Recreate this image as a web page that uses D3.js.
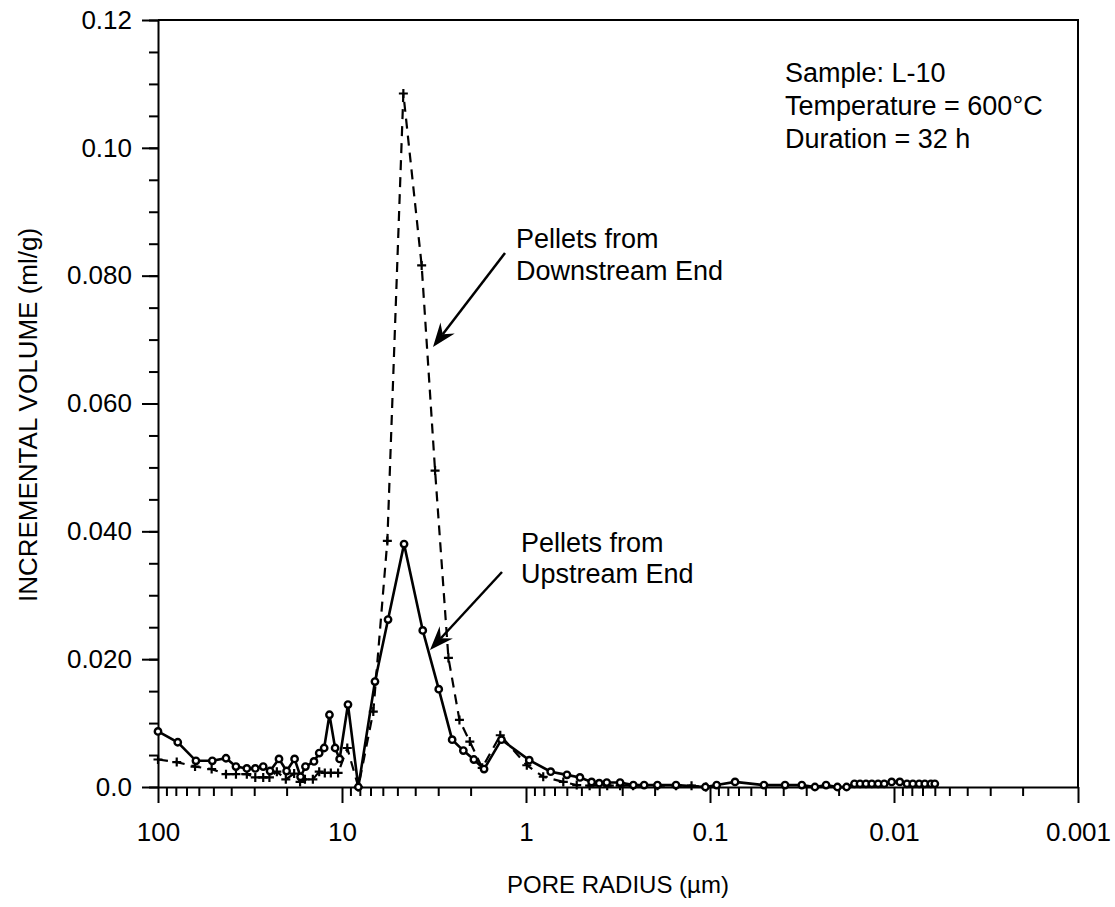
<!DOCTYPE html>
<html>
<head>
<meta charset="utf-8">
<script src="https://cdn.jsdelivr.net/npm/d3@7"></script>
<style>
    body { margin: 0; background: #fff; }
    svg text { font-family: Arial, "Liberation Sans", Helvetica, sans-serif; fill: #000; }
</style>
</head>
<body>
<svg id="chart" width="1115" height="907"></svg>
<script>
// pore radius (µm) and incremental volume (ml/g)
const UP_RADIUS = [100, 78.1, 62.2, 50.7, 42.7, 37.7, 32.9, 29.6, 26.8, 24.6, 22.0, 20.0, 18.1, 16.8,
    15.8, 14.2, 13.3, 12.5, 11.7, 10.9, 10.3, 9.28, 8.15, 6.62, 5.62, 4.60, 3.64, 2.98, 2.52, 2.19,
    1.92, 1.69, 1.36, 0.96, 0.734, 0.599, 0.509, 0.440, 0.400, 0.364, 0.308, 0.261, 0.228, 0.193,
    0.153, 0.106, 0.092, 0.0731, 0.0509, 0.0391, 0.0317, 0.0269, 0.0234, 0.0203, 0.0181, 0.0164,
    0.0153, 0.0142, 0.0132, 0.0122, 0.0113, 0.0103, 0.0093, 0.0085, 0.0079, 0.0073, 0.0068, 0.0063, 0.0060];
const UP_VOLUME = [0.0087, 0.0070, 0.0041, 0.0041, 0.0045, 0.0032, 0.0029, 0.0029, 0.0032, 0.0025, 0.0044,
    0.0025, 0.0044, 0.0016, 0.0032, 0.0040, 0.0053, 0.0061, 0.0113, 0.0061, 0.0044, 0.0129, 0.0, 0.0165,
    0.0262, 0.0380, 0.0245, 0.0153, 0.0074, 0.0057, 0.0043, 0.0028, 0.0074, 0.0042, 0.0024, 0.0019,
    0.0015, 0.0008, 0.0006, 0.0007, 0.0007, 0.0003, 0.0003, 0.0003, 0.0003, 0.0, 0.0003, 0.0008, 0.0003,
    0.0003, 0.0003, 0.0, 0.0003, 0.0, 0.0, 0.0005, 0.0005, 0.0005, 0.0005, 0.0005, 0.0005, 0.0008, 0.0008,
    0.0005, 0.0005, 0.0005, 0.0005, 0.0005, 0.0005];

const DOWN_RADIUS = [100, 79.1, 62.9, 51.1, 42.7, 37.7, 32.9, 29.6, 26.8, 24.8, 22.6, 20.2, 18.2, 16.9,
    15.9, 14.4, 13.3, 12.4, 11.5, 10.5, 9.36, 8.15, 6.76, 5.67, 4.64, 3.69, 3.12, 2.64, 2.30, 2.02, 1.73,
    1.38, 0.99, 0.806, 0.627, 0.530, 0.451, 0.362, 0.308, 0.262, 0.193, 0.153, 0.126, 0.105];
const DOWN_VOLUME = [0.0043, 0.0039, 0.0032, 0.0028, 0.0020, 0.0020, 0.0020, 0.0015, 0.0015, 0.0015, 0.0024,
    0.0012, 0.0021, 0.0008, 0.0012, 0.0012, 0.0024, 0.0022, 0.0022, 0.0022, 0.0061, 0.0, 0.0118, 0.0385,
    0.1085, 0.0816, 0.0495, 0.0202, 0.0105, 0.0071, 0.0030, 0.0081, 0.0034, 0.0016, 0.0008, 0.0003,
    0.0002, 0.0002, 0.0002, 0.0002, 0.0002, 0.0002, 0.0002, 0.0];

const X_TICKS = [100, 10, 1, 0.1, 0.01, 0.001];
const X_TICK_LABELS = ['100', '10', '1', '0.1', '0.01', '0.001'];
const Y_TICKS = [0, 0.02, 0.04, 0.06, 0.08, 0.10, 0.12];
const Y_TICK_LABELS = ['0.0', '0.020', '0.040', '0.060', '0.080', '0.10', '0.12'];

const INFO_LINES = ['Sample: L-10', 'Temperature = 600°C', 'Duration = 32 h'];

const LEFT = 158, RIGHT = 1078, TOP = 20, BOTTOM = 787;
const FONT = 26;
const NOTE_FONT = 27;

const svg = d3.select('#chart');

const x = d3.scaleLog().domain([100, 0.001]).range([LEFT, RIGHT]);
const y = d3.scaleLinear().domain([0, 0.12]).range([BOTTOM, TOP]);

// minor ticks: 2..9 inside each decade, and every 0.005 on y
const xMinor = [];
for (let e = -3; e < 2; e++) {
    for (let m = 2; m <= 9; m++) xMinor.push(m * Math.pow(10, e));
}
const yMinor = d3.range(0, 0.1201, 0.005);

function styleAxis(g) {
    g.selectAll('path, line').attr('stroke', '#000').attr('stroke-width', 2);
    g.selectAll('text').attr('font-size', FONT).attr('fill', '#000')
        .style('font-family', 'Arial, "Liberation Sans", Helvetica, sans-serif');
}

svg.append('g')
    .attr('transform', `translate(0,${BOTTOM})`)
    .call(d3.axisBottom(x).tickValues(xMinor).tickSize(9).tickFormat('').tickSizeOuter(0))
    .call(g => g.select('.domain').remove())
    .call(styleAxis);

svg.append('g')
    .attr('transform', `translate(0,${BOTTOM})`)
    .call(d3.axisBottom(x).tickValues(X_TICKS).tickSize(16).tickPadding(20).tickSizeOuter(0)
        .tickFormat((d, i) => X_TICK_LABELS[i]))
    .call(styleAxis);

svg.append('g')
    .attr('transform', `translate(${LEFT},0)`)
    .call(d3.axisLeft(y).tickValues(yMinor).tickSize(9).tickFormat('').tickSizeOuter(0))
    .call(g => g.select('.domain').remove())
    .call(styleAxis);

svg.append('g')
    .attr('transform', `translate(${LEFT},0)`)
    .call(d3.axisLeft(y).tickValues(Y_TICKS).tickSize(16).tickPadding(10).tickSizeOuter(0)
        .tickFormat((d, i) => Y_TICK_LABELS[i]))
    .call(styleAxis);

// frame top and right
svg.append('path')
    .attr('d', `M${LEFT},${TOP}H${RIGHT}V${BOTTOM}`)
    .attr('fill', 'none').attr('stroke', '#000').attr('stroke-width', 2);

// axis titles
svg.append('text')
    .attr('x', (LEFT + RIGHT) / 2).attr('y', 893)
    .attr('text-anchor', 'middle').attr('font-size', 24)
    .text('PORE RADIUS (µm)');

svg.append('text')
    .attr('transform', 'translate(37,415) rotate(-90)')
    .attr('text-anchor', 'middle').attr('font-size', 26)
    .text('INCREMENTAL VOLUME (ml/g)');

// series
const upData = UP_RADIUS.map((r, i) => [r, UP_VOLUME[i]]);
const downData = DOWN_RADIUS.map((r, i) => [r, DOWN_VOLUME[i]]);

const line = d3.line().x(d => x(d[0])).y(d => y(d[1]));

svg.append('path')
    .datum(downData)
    .attr('d', line)
    .attr('fill', 'none').attr('stroke', '#000').attr('stroke-width', 2.2)
    .attr('stroke-dasharray', '10,7');

svg.append('g')
    .selectAll('path')
    .data(downData)
    .enter()
    .append('path')
    .attr('d', d => `M${x(d[0]) - 4.5},${y(d[1])}h9M${x(d[0])},${y(d[1]) - 4.5}v9`)
    .attr('stroke', '#000').attr('stroke-width', 2.2);

svg.append('path')
    .datum(upData)
    .attr('d', line)
    .attr('fill', 'none').attr('stroke', '#000').attr('stroke-width', 2.6);

svg.append('g')
    .selectAll('circle')
    .data(upData)
    .enter()
    .append('circle')
    .attr('cx', d => x(d[0]))
    .attr('cy', d => y(d[1]))
    .attr('r', 3.2)
    .attr('fill', '#fff').attr('stroke', '#000').attr('stroke-width', 2.4);

// annotations
function arrow(x1, y1, x2, y2) {
    const dx = x2 - x1, dy = y2 - y1;
    const len = Math.hypot(dx, dy);
    const ux = dx / len, uy = dy / len;
    const px = -uy, py = ux;
    const hl = 24, hw = 9, notch = 16;
    const bx = x2 - ux * hl, by = y2 - uy * hl;
    const nx = x2 - ux * notch, ny = y2 - uy * notch;
    svg.append('line')
        .attr('x1', x1).attr('y1', y1).attr('x2', nx).attr('y2', ny)
        .attr('stroke', '#000').attr('stroke-width', 2.5);
    svg.append('path')
        .attr('d', `M${x2},${y2}L${bx + px * hw},${by + py * hw}L${nx},${ny}L${bx - px * hw},${by - py * hw}Z`)
        .attr('fill', '#000');
}

function label(lines, lx, ly, dy) {
    const t = svg.append('text').attr('font-size', NOTE_FONT);
    lines.forEach((s, i) => {
        t.append('tspan').attr('x', lx).attr('y', ly + i * dy).text(s);
    });
}

label(['Pellets from', 'Downstream End'], 516, 248, 32);
arrow(505, 253, 433, 347);

label(['Pellets from', 'Upstream End'], 521, 552, 31);
arrow(502, 572, 430, 650);

label(INFO_LINES, 785, 82, 33);
</script>
</body>
</html>
